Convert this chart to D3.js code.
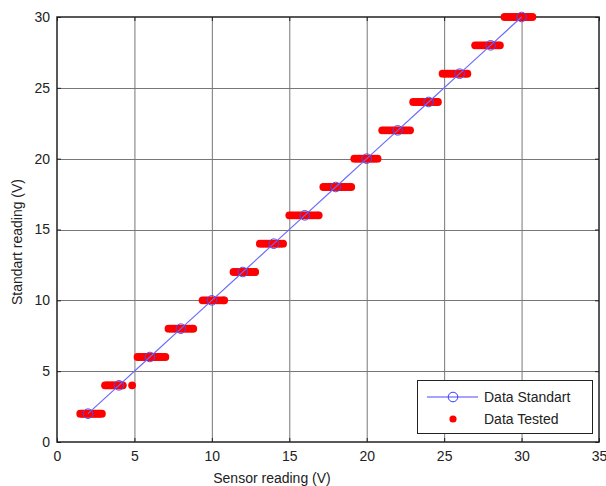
<!DOCTYPE html>
<html><head><meta charset="utf-8">
<script src="https://cdn.jsdelivr.net/npm/d3@7"></script>
<style>body{margin:0;background:#fff}svg{display:block;font-family:"Liberation Sans",Arial,sans-serif}</style>
</head><body>
<script>
const standardX = [2,4,6,8,10,12,14,16,18,20,22,24,26,28,30];
const standardY = [2,4,6,8,10,12,14,16,18,20,22,24,26,28,30];
const testedLevels = [2,4,6,8,10,12,14,16,18,20,22,24,26,28,30];
const testedX = [
  [1.5,1.6,1.7,1.8,1.9,2.0,2.1,2.2,2.3,2.4,2.5,2.6,2.7,2.8,2.9],
  [3.1,3.2,3.3,3.4,3.5,3.6,3.7,3.8,3.9,4.0,4.1,4.2,4.25,4.85],
  [5.2,5.35,5.5,5.65,5.8,5.95,6.1,6.25,6.4,6.55,6.7,6.85,7.0],
  [7.2,7.35,7.5,7.65,7.8,7.95,8.1,8.25,8.4,8.55,8.7,8.8],
  [9.4,9.55,9.7,9.85,10.0,10.15,10.3,10.45,10.6,10.75,10.8],
  [11.4,11.55,11.7,11.85,12.0,12.15,12.3,12.45,12.6,12.75,12.8],
  [13.1,13.25,13.4,13.55,13.7,13.85,14.0,14.15,14.3,14.45,14.6],
  [15.0,15.15,15.3,15.45,15.6,15.75,15.9,16.05,16.2,16.35,16.5,16.65,16.8,16.9],
  [17.2,17.35,17.5,17.65,17.8,17.95,18.1,18.25,18.4,18.55,18.7,18.85,19.0],
  [19.2,19.35,19.5,19.65,19.8,19.95,20.1,20.25,20.4,20.55,20.7],
  [21.0,21.15,21.3,21.45,21.6,21.75,21.9,22.05,22.2,22.35,22.5,22.65,22.8],
  [23.0,23.15,23.3,23.45,23.6,23.75,23.9,24.05,24.2,24.35,24.5,24.6],
  [24.9,25.05,25.2,25.35,25.5,25.65,25.8,25.95,26.1,26.25,26.4,26.5],
  [27.0,27.15,27.3,27.45,27.6,27.75,27.9,28.05,28.2,28.35,28.5,28.6],
  [28.9,29.05,29.2,29.35,29.5,29.65,29.8,29.95,30.1,30.25,30.4,30.55,30.7]
];
const xTicks = [0,5,10,15,20,25,30,35];
const yTicks = [0,5,10,15,20,25,30];
const legendLabels = ["Data Standart","Data Tested"];

const W = 606, H = 486;
const L = 57, R = 599, T = 17, B = 442;
const svg = d3.select("body").append("svg").attr("width", W).attr("height", H);
const x = d3.scaleLinear().domain([0,35]).range([L,R]);
const y = d3.scaleLinear().domain([0,30]).range([B,T]);

// grid
const grid = svg.append("g").attr("stroke","#777").attr("stroke-width",1);
xTicks.slice(1,-1).forEach(v => grid.append("line").attr("x1",x(v)+0.5).attr("x2",x(v)+0.5).attr("y1",T).attr("y2",B));
yTicks.slice(1,-1).forEach(v => grid.append("line").attr("x1",L).attr("x2",R).attr("y1",Math.round(y(v))+0.5).attr("y2",Math.round(y(v))+0.5));

// axes
const xAxis = d3.axisBottom(x).tickValues(xTicks).tickSize(-4).tickPadding(9).tickFormat(d3.format("d"));
const yAxis = d3.axisLeft(y).tickValues(yTicks).tickSize(-4).tickPadding(7).tickFormat(d3.format("d"));
const gx = svg.append("g").attr("transform",`translate(0,${B})`).call(xAxis);
const gy = svg.append("g").attr("transform",`translate(${L},0)`).call(yAxis);
[gx,gy].forEach(g=>{
  g.select(".domain").remove();
  g.selectAll("line").attr("stroke","#222");
  g.selectAll("text").attr("font-size",14).attr("fill","#222").attr("font-family","'Liberation Sans',Arial,sans-serif");
});
// top/right ticks
svg.append("g").attr("transform",`translate(0,${T})`).call(d3.axisTop(x).tickValues(xTicks).tickSize(-4).tickFormat(""))
  .call(g=>{g.select(".domain").remove();g.selectAll("line").attr("stroke","#222");});
svg.append("g").attr("transform",`translate(${R},0)`).call(d3.axisRight(y).tickValues(yTicks).tickSize(-4).tickFormat(""))
  .call(g=>{g.select(".domain").remove();g.selectAll("line").attr("stroke","#222");});
// frame
svg.append("rect").attr("x",L).attr("y",T).attr("width",R-L).attr("height",B-T)
  .attr("fill","none").attr("stroke","#222").attr("stroke-width",1.5);

// tested data
const testedPts = [];
testedLevels.forEach((lv,i)=>testedX[i].forEach(v=>testedPts.push([v,lv])));
svg.append("g").selectAll("circle").data(testedPts).join("circle")
  .attr("cx",d=>x(d[0])).attr("cy",d=>y(d[1])).attr("r",3.9).attr("fill","#ff0000");

// standard line
const stdPts = standardX.map((v,i)=>[v,standardY[i]]);
svg.append("path").datum(stdPts).attr("d",d3.line().x(d=>x(d[0])).y(d=>y(d[1])))
  .attr("fill","none").attr("stroke","#6a6aff").attr("stroke-width",1.2);
svg.append("g").selectAll("circle").data(stdPts).join("circle")
  .attr("cx",d=>x(d[0])).attr("cy",d=>y(d[1])).attr("r",4.8)
  .attr("fill","none").attr("stroke","#4a4aff").attr("stroke-width",1);

// labels
svg.append("text").attr("x",272).attr("y",483).attr("text-anchor","middle").attr("font-size",14).attr("fill","#222").text("Sensor reading (V)");
svg.append("text").attr("transform","translate(22,242) rotate(-90)").attr("text-anchor","middle").attr("font-size",14).attr("fill","#222").text("Standart reading (V)");

// legend
const lg = svg.append("g");
lg.append("rect").attr("x",417.5).attr("y",380.5).attr("width",175).attr("height",53).attr("fill","#fff").attr("stroke","#222").attr("stroke-width",1);
lg.append("line").attr("x1",427).attr("x2",478).attr("y1",397).attr("y2",397).attr("stroke","#4a4aff").attr("stroke-width",1.2);
lg.append("circle").attr("cx",453).attr("cy",397).attr("r",4.8).attr("fill","none").attr("stroke","#3a3aff");
lg.append("circle").attr("cx",453).attr("cy",419).attr("r",3.6).attr("fill","#ff0000");
lg.selectAll("text.lab").data(legendLabels).join("text").attr("class","lab")
  .attr("x",484).attr("y",(d,i)=>402+i*22).attr("font-size",14).attr("fill","#222").text(d=>d);
</script>
</body></html>
